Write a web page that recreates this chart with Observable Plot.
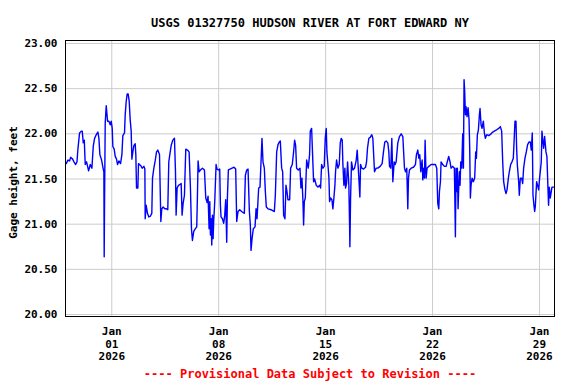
<!DOCTYPE html>
<html><head><meta charset="utf-8">
<script src="https://cdn.jsdelivr.net/npm/d3@7"></script>
<script src="https://cdn.jsdelivr.net/npm/@observablehq/plot@0.6"></script>
<style>body{margin:0;background:#fff} #chart svg{display:block}</style>
</head><body><div id="chart"></div>
<script>
const title = "USGS 01327750 HUDSON RIVER AT FORT EDWARD NY";
const yLabel = "Gage height, feet";
const caption = "---- Provisional Data Subject to Revision ----";
const startTime = "2025-12-29T00:00:00Z";
const xTickDates = ["2026-01-01", "2026-01-08", "2026-01-15", "2026-01-22", "2026-01-29"];
const yTicks = [20.0, 20.5, 21.0, 21.5, 22.0, 22.5, 23.0];

// hours since Dec 29 00:00
const hoursSinceStart = [
0.5,3.1,5.8,7.3,10.5,12.6,15.2,17.3,18.8,21.4,
24.1,25.6,27.2,28.8,30.3,32.4,35.6,38.2,40.8,42.9,
45.0,47.6,50.2,51.8,53.3,56.0,58.6,59.6,60.1,60.7,
61.7,63.3,64.3,65.4,67.5,69.6,71.1,72.7,73.7,75.8,
77.4,79.5,81.1,83.2,85.8,87.9,89.4,92.0,93.1,94.7,
96.2,97.8,99.4,100.9,102.5,103.6,105.1,106.7,108.8,109.8,
110.9,113.0,114.0,117.2,119.8,122.4,124.0,124.5,126.0,128.1,
130.2,132.8,134.9,136.0,138.1,140.2,142.3,144.3,147.0,149.1,
150.6,152.7,155.3,158.0,160.0,161.6,163.2,165.3,167.9,170.5,
172.1,173.1,174.7,176.8,179.4,181.0,182.5,184.1,186.2,187.2,
188.3,190.9,193.5,195.6,197.2,198.7,200.8,203.4,205.5,206.6,
207.6,209.2,211.3,214.4,217.6,219.7,221.8,223.3,224.9,226.0,
227.0,228.1,229.1,230.2,231.2,232.2,233.8,235.9,237.4,239.5,
241.6,242.7,243.7,245.8,247.9,249.5,251.0,252.6,253.7,255.2,
257.8,261.0,264.1,266.7,268.3,270.4,273.0,276.1,280.3,281.9,
284.0,286.1,288.2,289.7,290.8,292.4,294.4,297.1,298.7,300.2,
302.8,304.9,306.5,308.0,309.6,311.7,313.3,314.8,317.5,322.2,
327.4,329.0,331.1,333.2,335.2,336.8,338.9,340.5,342.0,344.1,
345.7,347.3,348.8,351.5,353.0,355.6,357.7,359.3,360.9,362.4,
365.1,367.7,369.2,370.8,372.4,373.4,374.5,376.1,378.2,380.7,
382.8,383.9,386.0,387.5,389.1,390.7,393.3,395.9,398.5,400.1,
401.7,403.8,405.8,407.4,409.0,410.0,411.6,413.2,414.2,415.8,
417.9,419.4,421.0,422.6,423.6,425.2,427.3,429.4,431.0,432.5,
434.1,435.1,436.7,438.3,439.3,440.9,442.5,444.5,445.6,446.1,
447.2,448.7,450.8,453.4,456.1,457.6,458.7,460.2,461.8,462.9,
464.9,467.6,470.7,472.3,473.8,475.9,478.0,480.6,482.2,484.8,
487.4,490.0,493.7,496.8,498.9,501.0,503.1,505.7,507.3,508.4,
510.4,512.0,513.6,515.7,517.2,518.8,521.4,524.0,526.7,529.3,
531.9,533.5,535.5,537.1,538.2,539.7,542.3,546.0,549.1,550.7,
552.8,554.4,555.9,557.5,559.6,560.7,562.2,563.3,564.3,565.9,
567.4,570.1,573.7,577.4,580.5,582.6,584.2,585.8,586.8,588.4,
589.4,592.0,594.6,597.3,599.9,601.4,603.5,605.1,607.7,610.3,
611.4,611.9,612.9,614.0,615.0,616.1,617.1,618.2,619.2,620.3,
621.8,623.4,624.5,625.5,626.5,627.6,628.6,630.2,631.8,633.3,
634.4,635.4,636.5,638.1,640.1,642.2,643.8,644.9,646.4,648.0,
649.6,650.6,652.2,653.7,655.8,657.4,659.0,661.1,664.2,667.9,
670.5,673.1,675.7,679.9,682.5,684.6,686.2,687.7,689.8,691.4,
693.0,695.1,696.6,698.7,700.8,702.9,705.5,707.1,708.1,709.2,
711.3,712.3,713.9,716.0,717.6,719.1,721.2,723.3,725.4,727.5,
729.6,731.1,732.7,733.8,735.3,736.4,737.4,739.5,741.1,742.7,
744.2,746.8,747.9,748.9,750.5,752.1,754.2,755.7,757.3,758.3,
759.4,761.0,762.5,763.6,765.7,767.2
];

// gage height, feet
const gageHeight = [
21.67,21.71,21.70,21.74,21.72,21.69,21.66,21.69,21.83,22.01,
22.03,22.03,21.90,21.93,21.66,21.69,21.59,21.66,21.62,21.86,
21.95,21.99,22.02,21.95,21.77,21.71,21.61,21.58,20.64,21.29,
22.12,22.31,22.23,22.14,22.14,22.10,22.14,22.06,21.86,21.83,
21.75,21.72,21.66,21.70,21.67,21.77,21.98,22.01,22.21,22.36,
22.44,22.44,22.36,22.16,22.03,21.72,21.80,21.87,21.89,21.77,
21.40,21.40,21.67,21.65,21.62,21.64,21.61,21.06,21.21,21.12,
21.08,21.09,21.12,21.51,21.62,21.70,21.80,21.82,21.77,21.03,
21.17,21.19,21.17,21.17,21.16,21.69,21.77,21.87,21.93,21.95,
21.58,21.10,21.40,21.43,21.44,21.45,21.10,21.23,21.32,21.58,
21.83,21.82,21.80,21.40,20.95,20.82,20.92,20.95,20.97,21.32,
21.70,21.58,21.60,21.62,21.60,21.29,21.24,21.31,20.95,21.25,
20.88,21.06,20.77,21.10,20.84,21.04,21.25,21.66,21.61,21.60,
21.61,21.21,21.08,21.06,21.01,21.10,21.27,20.80,21.30,21.60,
21.61,21.62,21.63,21.61,21.03,21.14,21.16,21.14,21.12,21.54,
21.60,21.61,21.14,20.99,20.71,20.84,20.95,20.97,21.17,21.06,
21.40,21.41,21.69,21.95,21.69,21.62,21.36,21.19,21.17,21.16,
21.14,21.32,21.80,21.88,21.91,21.92,21.62,21.58,21.10,21.06,
21.43,21.36,21.27,21.27,21.62,21.66,21.80,21.93,21.87,21.62,
21.60,21.62,21.40,21.51,21.25,20.99,21.25,21.29,21.71,21.62,
21.77,22.03,22.06,21.77,21.47,21.50,21.43,21.41,21.43,21.40,
21.66,21.62,21.64,21.95,22.06,21.80,21.66,21.51,21.25,21.29,
21.27,21.17,21.29,21.43,21.58,21.71,21.62,21.66,21.90,21.95,
21.93,21.67,21.43,21.62,21.40,21.45,21.69,21.43,21.01,20.75,
21.29,21.69,21.60,21.62,21.71,21.82,21.69,21.51,21.30,21.66,
21.62,21.61,21.63,21.69,21.84,21.95,21.96,21.99,21.95,21.58,
21.62,21.62,21.64,21.67,21.80,21.91,21.92,21.90,21.80,21.64,
21.62,21.95,21.47,21.69,21.66,21.69,21.90,21.97,22.00,21.97,
21.62,21.58,21.62,21.17,21.51,21.60,21.62,21.63,21.66,21.77,
21.82,21.73,21.77,21.58,21.71,21.49,21.62,21.51,21.93,21.51,
21.62,21.64,21.66,21.66,21.66,21.62,21.23,21.17,21.36,21.47,
21.69,21.66,21.64,21.64,21.71,21.75,21.69,21.62,21.64,21.62,
21.10,20.86,21.62,21.36,21.62,21.17,21.40,21.58,21.43,21.69,
21.62,22.00,21.62,22.60,22.47,22.21,22.30,22.19,22.29,22.16,
21.84,21.29,21.43,21.51,21.47,21.51,21.80,21.73,21.99,22.04,
22.21,22.28,22.10,22.06,22.14,22.01,21.95,21.99,21.98,22.00,
22.02,22.03,22.04,22.06,22.08,22.03,21.69,21.47,21.38,21.34,
21.38,21.51,21.58,21.66,21.69,21.73,22.14,22.14,21.84,21.66,
21.47,21.32,21.51,21.51,21.45,21.62,21.73,21.80,21.88,21.91,
21.91,21.82,22.01,21.32,21.21,21.14,21.19,21.47,21.43,21.38,
21.51,21.69,22.03,21.95,21.84,21.97,21.80,21.75,21.40,21.21,
21.41,21.29,21.36,21.41,21.41,21.41
];

const t0 = new Date(startTime);
const at = h => new Date(+t0 + h * 3600e3);
const n = Math.min(hoursSinceStart.length, gageHeight.length);
const data = d3.range(n).map(i => ({time: at(hoursSinceStart[i]), value: gageHeight[i]}));
const xTicks = xTickDates.map(d => new Date(d + "T00:00:00Z"));
const fmtX = d3.utcFormat("%b\n%d\n%Y");

const chart = Plot.plot({
  width: 576, height: 384,
  marginTop: 40, marginBottom: 68, marginLeft: 65, marginRight: 22,
  style: {fontFamily: "'DejaVu Sans Mono', monospace", fontSize: "11px", fontWeight: "bold", background: "#fff", color: "#000"},
  x: {type: "utc", domain: [at(-0.7), at(767.6)], axis: null},
  y: {domain: [19.978, 23.033], axis: null},
  marks: [
    Plot.ruleY(yTicks, {stroke: "#cccccc", strokeWidth: 1}),
    Plot.ruleX(xTicks, {stroke: "#cccccc", strokeWidth: 1}),
    Plot.line(data, {x: "time", y: "value", stroke: "#0000ff", strokeWidth: 1.4}),
    Plot.frame({stroke: "#000", strokeWidth: 1}),
    Plot.text(yTicks, {y: d => d, text: d => d.toFixed(2), frameAnchor: "left", textAnchor: "end", dx: -8, fill: "#000"}),
    Plot.text(xTicks, {x: d => d, text: fmtX, frameAnchor: "bottom", lineAnchor: "top", dy: 10, lineHeight: 1.12, fill: "#000"}),
    Plot.text([yLabel], {frameAnchor: "left", textAnchor: "middle", rotate: -90, dx: -52, dy: 4, fill: "#000"}),
    Plot.text([title], {frameAnchor: "top", dy: -22, fontSize: 12, fill: "#000"}),
    Plot.text([caption], {frameAnchor: "bottom", dy: 61, fontSize: 12, fill: "#ff0000"})
  ]
});
document.getElementById("chart").append(chart);
</script>
</body></html>
